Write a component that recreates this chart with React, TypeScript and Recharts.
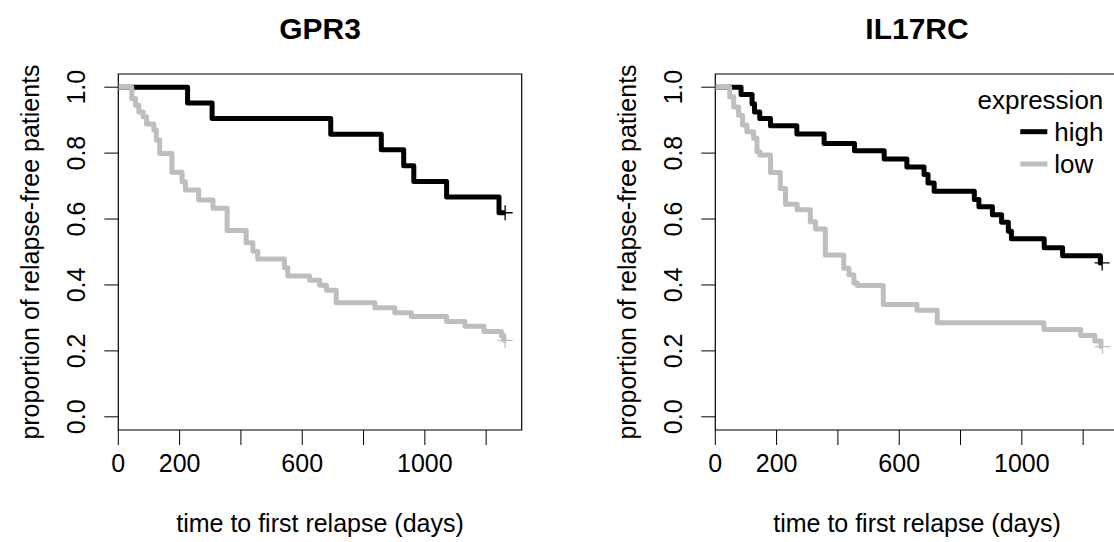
import React from "react";
import {
  ComposedChart,
  Line,
  Scatter,
  XAxis,
  YAxis,
  ReferenceArea,
} from "recharts";

// axis ticks (R skips some x labels because they would overlap)
const xTicks = [0, 200, 400, 600, 800, 1000, 1200];
const xTickLabels = [0, 200, 600, 1000];
const yTicks = [0, 0.2, 0.4, 0.6, 0.8, 1.0];

// GPR3, high expression
const gprHighTime = [0, 226, 306, 693, 858, 931, 964, 1071, 1242, 1262];
const gprHighSurv = [1, 0.952, 0.905, 0.857, 0.81, 0.762, 0.714, 0.667, 0.619, 0.619];

// GPR3, low expression
const gprLowTime = [
  0, 44, 56, 67, 81, 92, 116, 124, 135, 175, 208, 219, 262, 309, 355, 417, 439,
  455, 542, 553, 624, 657, 679, 711, 837, 902, 956, 1071, 1131, 1193, 1250, 1258,
  1262,
];
const gprLowSurv = [
  1, 0.966, 0.945, 0.925, 0.91, 0.888, 0.87, 0.84, 0.799, 0.742, 0.713, 0.688,
  0.658, 0.633, 0.565, 0.528, 0.502, 0.479, 0.452, 0.427, 0.414, 0.399, 0.384,
  0.346, 0.331, 0.316, 0.304, 0.289, 0.275, 0.259, 0.245, 0.232, 0.232,
];

// IL17RC, high expression
const ilHighTime = [
  0, 84, 120, 128, 145, 180, 266, 355, 454, 551, 625, 681, 694, 714, 845, 860,
  904, 934, 956, 966, 1073, 1133, 1256, 1262,
];
const ilHighSurv = [
  1, 0.978, 0.95, 0.925, 0.905, 0.883, 0.858, 0.829, 0.807, 0.782, 0.758, 0.735,
  0.709, 0.684, 0.659, 0.637, 0.613, 0.59, 0.563, 0.54, 0.513, 0.489, 0.467,
  0.467,
];

// IL17RC, low expression
const ilLowTime = [
  0, 47, 60, 76, 89, 103, 125, 136, 145, 180, 212, 229, 267, 310, 327, 359, 419,
  436, 452, 463, 548, 658, 724, 1072, 1192, 1238, 1258, 1263,
];
const ilLowSurv = [
  1, 0.971, 0.94, 0.915, 0.885, 0.865, 0.845, 0.804, 0.794, 0.741, 0.693, 0.645,
  0.628, 0.592, 0.57, 0.491, 0.451, 0.431, 0.406, 0.398, 0.341, 0.323, 0.285,
  0.265, 0.247, 0.23, 0.213, 0.213,
];

const toSeries = (t: number[], s: number[]) => t.map((v, i) => ({ t: v, s: s[i] }));
const lastPoint = (t: number[], s: number[]) => [{ t: t[t.length - 1], s: s[s.length - 1] }];

const FONT = "'Liberation Sans', Arial, sans-serif";
const GRAY = "#BEBEBE";
const W = 560;
const H = 542;
const X_MAX = 1316;

const Cross = (color: string) => (props: any) => {
  const { cx, cy } = props;
  return (
    <path
      d={`M${cx - 7.5},${cy}H${cx + 7.5}M${cx},${cy - 7.5}V${cy + 7.5}`}
      stroke={color}
      strokeWidth={1.3}
      fill="none"
    />
  );
};

const XTick = ({ x, payload }: any) =>
  xTickLabels.includes(payload.value) ? (
    <text x={x} y={463} textAnchor="middle" dominantBaseline="central" fontSize={25} fontFamily={FONT} fill="#000">
      {payload.value}
    </text>
  ) : (
    <g />
  );

const YTick = ({ y, payload }: any) => (
  <text
    x={76}
    y={y}
    transform={`rotate(-90 76 ${y})`}
    textAnchor="middle"
    dominantBaseline="central"
    fontSize={25}
    fontFamily={FONT}
    fill="#000"
  >
    {payload.value.toFixed(1)}
  </text>
);

interface PanelProps {
  title: string;
  high: { t: number; s: number }[];
  low: { t: number; s: number }[];
  highEnd: { t: number; s: number }[];
  lowEnd: { t: number; s: number }[];
  legend?: boolean;
}

function Panel({ title, high, low, highEnd, lowEnd, legend }: PanelProps) {
  const frame = (props: any) => {
    const vb = props.viewBox;
    const cx = vb.x + vb.width / 2;
    return (
      <g fontFamily={FONT}>
        <text x={cx} y={28} textAnchor="middle" dominantBaseline="central" fontSize={30} fontWeight="bold">
          {title}
        </text>
        {legend && (
          <g fontSize={26}>
            <text x={vb.x + 388} y={100} textAnchor="end" dominantBaseline="central">
              expression
            </text>
            <line x1={vb.x + 305} x2={vb.x + 332} y1={131.7} y2={131.7} stroke="#000" strokeWidth={5} />
            <text x={vb.x + 339} y={131.7} dominantBaseline="central">
              high
            </text>
            <line x1={vb.x + 305} x2={vb.x + 332} y1={164} y2={164} stroke={GRAY} strokeWidth={5} />
            <text x={vb.x + 339} y={164} dominantBaseline="central">
              low
            </text>
          </g>
        )}
      </g>
    );
  };

  return (
    <ComposedChart
      width={W}
      height={H}
      margin={{ top: 74, right: 38.3, bottom: 2, left: 58.3 }}
    >
      <XAxis
        dataKey="t"
        type="number"
        domain={[0, X_MAX]}
        allowDataOverflow
        ticks={xTicks}
        interval={0}
        height={110}
        axisLine={false}
        tickSize={15}
        tickLine={{ stroke: "#000", strokeWidth: 1 }}
        tick={<XTick />}
        label={(props: any) => {
          const vb = props.viewBox;
          return (
            <text x={vb.x + vb.width / 2} y={523} textAnchor="middle" dominantBaseline="central" fontSize={25} fontFamily={FONT}>
              time to first relapse (days)
            </text>
          );
        }}
      />
      <YAxis
        dataKey="s"
        type="number"
        domain={[-0.04, 1.04]}
        allowDataOverflow
        ticks={yTicks}
        interval={0}
        width={60}
        axisLine={false}
        tickSize={14}
        tickLine={{ stroke: "#000", strokeWidth: 1 }}
        tick={<YTick />}
        label={(props: any) => {
          const vb = props.viewBox;
          const cy = vb.y + vb.height / 2;
          return (
            <text
              x={30}
              y={cy}
              transform={`rotate(-90 30 ${cy})`}
              textAnchor="middle"
              dominantBaseline="central"
              fontSize={25}
              fontFamily={FONT}
            >
              proportion of relapse-free patients
            </text>
          );
        }}
      />
      <ReferenceArea
        x1={0}
        x2={X_MAX}
        y1={-0.04}
        y2={1.04}
        fill="none"
        fillOpacity={0}
        stroke="#000"
        strokeWidth={1.2}
        label={frame}
      />
      <Line
        data={high}
        dataKey="s"
        type="stepAfter"
        stroke="#000"
        strokeWidth={5}
        strokeLinejoin="round"
        dot={false}
        activeDot={false}
        isAnimationActive={false}
      />
      <Line
        data={low}
        dataKey="s"
        type="stepAfter"
        stroke={GRAY}
        strokeWidth={5}
        strokeLinejoin="round"
        dot={false}
        activeDot={false}
        isAnimationActive={false}
      />
      <Scatter data={highEnd} dataKey="s" shape={Cross("#000")} isAnimationActive={false} />
      <Scatter data={lowEnd} dataKey="s" shape={Cross(GRAY)} isAnimationActive={false} />
    </ComposedChart>
  );
}

export default function App() {
  return (
    <div
      style={{
        position: "absolute",
        left: 0,
        top: 0,
        width: 1114,
        height: 542,
        overflow: "hidden",
        background: "#fff",
      }}
    >
      <div style={{ position: "absolute", left: 0, top: 0 }}>
        <Panel
          title="GPR3"
          high={toSeries(gprHighTime, gprHighSurv)}
          low={toSeries(gprLowTime, gprLowSurv)}
          highEnd={lastPoint(gprHighTime, gprHighSurv)}
          lowEnd={lastPoint(gprLowTime, gprLowSurv)}
        />
      </div>
      <div style={{ position: "absolute", left: 596.7, top: 0 }}>
        <Panel
          title="IL17RC"
          high={toSeries(ilHighTime, ilHighSurv)}
          low={toSeries(ilLowTime, ilLowSurv)}
          highEnd={lastPoint(ilHighTime, ilHighSurv)}
          lowEnd={lastPoint(ilLowTime, ilLowSurv)}
          legend
        />
      </div>
    </div>
  );
}
